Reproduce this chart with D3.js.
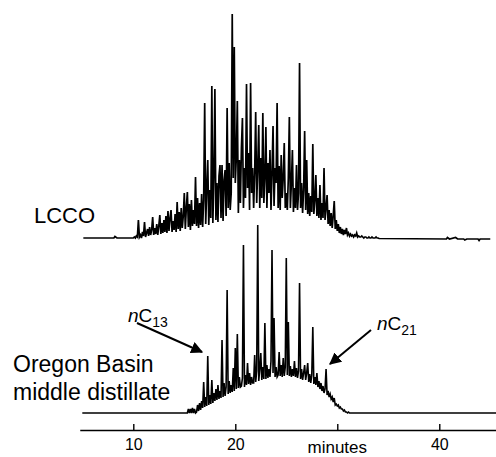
<!DOCTYPE html>
<html lang="en">

<head>
    <meta charset="UTF-8">
    <title>Chromatograms</title>
    <script src="https://d3js.org/d3.v7.min.js"></script>
    <style>
        body { margin: 0; background: #fff; }
        text { font-family: "Liberation Sans", Arial, sans-serif; fill: #000; }
    </style>
</head>

<body>
    <div id="chart"></div>
    <script>
        const sampleStep = 0.1;

        // LCCO trace: flat start, sampled region 10.0 - 34.0 min, flat tail
        const lccoLead = [[5.1, 0], [8.1, 0], [8.2, 1.5], [8.4, 0], [9.9, 0]];
        const lccoStart = 10.0;
        const lccoSignal = [
            0, 1, 0, 2, 1, 18, 1, 3, 0, 6,
            2, 16, 1, 5, 9, 2, 11, 3, 8, 21,
            3, 10, 4, 14, 3, 12, 23, 4, 15, 5,
            18, 6, 22, 5, 27, 7, 20, 28, 6, 17,
            8, 24, 6, 36, 9, 26, 7, 30, 10, 22,
            45, 9, 30, 46, 11, 34, 8, 38, 12, 28,
            14, 61, 12, 40, 10, 35, 13, 44, 11, 38,
            135, 14, 50, 78, 13, 48, 20, 152, 15, 60,
            149, 18, 55, 16, 62, 73, 20, 73, 17, 58,
            68, 22, 130, 30, 75, 28, 45, 224, 60, 191,
            55, 80, 137, 25, 78, 35, 90, 120, 30, 70,
            40, 154, 50, 85, 28, 155, 45, 70, 30, 65,
            126, 35, 70, 113, 30, 80, 40, 125, 35, 60,
            111, 30, 75, 45, 88, 28, 65, 112, 32, 70,
            55, 135, 30, 72, 28, 83, 40, 60, 95, 30,
            45, 28, 60, 121, 30, 55, 88, 26, 50, 30,
            73, 28, 45, 175, 30, 55, 25, 48, 107, 28,
            78, 24, 45, 22, 42, 26, 94, 24, 38, 63,
            22, 40, 20, 53, 18, 35, 20, 70, 18, 30,
            43, 14, 28, 12, 25, 10, 22, 37, 9, 18,
            7, 14, 5, 11, 4, 9, 3, 8, 4, 10,
            3, 5, 2, 4, 2, 3, 1, 3, 2, 5,
            1, 2, 1, 1, 2, 1, 0, 1, 1, 0,
            0, 1, 0, 0, 1, 0, 0, 0, 1, 0,
            0
        ];
        const lccoTail = [[34.1, -0.5], [40.7, -1], [40.8, 0.5], [41.0, -1], [41.6, 0.5],
            [41.8, -1], [42.4, -1], [42.5, -2], [42.7, -1], [43.8, -1], [43.9, -2.5], [44.0, -1], [45.0, -1]];

        // Oregon Basin middle distillate trace: sampled region 15.0 - 32.0 min
        const oregonLead = [[5.0, 0], [14.9, 0]];
        const oregonStart = 15.0;
        const oregonSignal = [
            0, 0, 0, 0, 4, 0, 4, 0, 5, 0,
            4, 0, 1, 8, 2, 10, 3, 12, 5, 31,
            6, 16, 7, 57, 8, 18, 9, 33, 10, 20,
            12, 24, 13, 28, 14, 22, 15, 73, 16, 30,
            17, 26, 123, 19, 32, 20, 28, 21, 45, 22,
            65, 24, 79, 25, 36, 26, 27, 35, 168, 26,
            38, 28, 50, 29, 40, 28, 36, 30, 30, 58,
            31, 42, 188, 32, 44, 60, 33, 46, 34, 90,
            34, 48, 35, 44, 36, 52, 163, 40, 95, 36,
            46, 36, 38, 61, 37, 48, 36, 55, 37, 46,
            155, 38, 91, 37, 47, 36, 44, 37, 52, 36,
            45, 35, 42, 130, 34, 44, 33, 40, 48, 33,
            40, 50, 31, 39, 30, 38, 86, 29, 36, 28,
            40, 26, 32, 24, 30, 22, 27, 20, 24, 44,
            18, 22, 16, 19, 14, 16, 11, 15, 8, 9,
            7, 8, 5, 6, 4, 4, 2, 3, 1, 1,
            0, 1, 0, 0, 0, 0, 0, 0, 0, 0,
            0
        ];
        const oregonTail = [[32.1, 0], [45.7, 0]];

        // axis ticks
        const tickValues = [10, 20, 30, 40];
        const tickLabels = ["10", "20", "", "40"];

        const width = 496;
        const height = 457;

        const svg = d3.select("#chart")
            .append("svg")
            .attr("width", width)
            .attr("height", height);

        // time scale (minutes)
        const xScale = d3.scaleLinear().domain([4.75, 45.6]).range([79.75, 496.4]);
        // one signal scale per trace, same gain
        const yTop = d3.scaleLinear().domain([0, 224]).range([238, 14]);
        const yBot = d3.scaleLinear().domain([0, 224]).range([413, 189]);

        function buildTrace(lead, start, signal, tail) {
            const sampled = signal.map((v, i) => [start + i * sampleStep, v]);
            return lead.concat(sampled, tail);
        }

        const lccoData = buildTrace(lccoLead, lccoStart, lccoSignal, lccoTail);
        const oregonData = buildTrace(oregonLead, oregonStart, oregonSignal, oregonTail);

        const lineTop = d3.line().x(d => xScale(d[0])).y(d => yTop(d[1]));
        const lineBot = d3.line().x(d => xScale(d[0])).y(d => yBot(d[1]));

        svg.append("path")
            .datum(lccoData)
            .attr("fill", "none")
            .attr("stroke", "#000")
            .attr("stroke-width", 1.7)
            .attr("d", lineTop);

        svg.append("path")
            .datum(oregonData)
            .attr("fill", "none")
            .attr("stroke", "#000")
            .attr("stroke-width", 1.6)
            .attr("d", lineBot);

        // bottom axis, ticks pointing up
        const xAxis = svg.append("g")
            .attr("transform", "translate(0,430)")
            .call(d3.axisBottom(xScale)
                .tickValues(tickValues)
                .tickFormat((d, i) => tickLabels[i])
                .tickSizeInner(-6)
                .tickSizeOuter(0)
                .tickPadding(9));
        xAxis.select(".domain").attr("stroke-width", 1.4);
        xAxis.selectAll(".tick line").attr("stroke-width", 1.4);
        xAxis.selectAll(".tick text")
            .attr("font-size", 16)
            .attr("font-family", "Liberation Sans, Arial, sans-serif");

        svg.append("text")
            .attr("x", xScale(30))
            .attr("y", 453)
            .attr("text-anchor", "middle")
            .attr("font-size", 17)
            .text("minutes");

        // trace labels
        svg.append("text").attr("x", 34).attr("y", 223).attr("font-size", 22).text("LCCO");
        svg.append("text").attr("x", 13).attr("y", 372).attr("font-size", 23).text("Oregon Basin");
        svg.append("text").attr("x", 13).attr("y", 400).attr("font-size", 23).text("middle distillate");

        // n-alkane markers
        const markers = [
            { num: "13", tx: 128, ty: 322, from: [137, 323], to: [202, 352] },
            { num: "21", tx: 377, ty: 330, from: [371, 330], to: [330, 364] }
        ];

        svg.append("defs").append("marker")
            .attr("id", "arrow")
            .attr("viewBox", "0 0 10 10")
            .attr("refX", 9).attr("refY", 5)
            .attr("markerWidth", 6).attr("markerHeight", 6)
            .attr("orient", "auto")
            .append("path")
            .attr("d", "M0,0L10,5L0,10Z")
            .attr("fill", "#000");

        markers.forEach(m => {
            const t = svg.append("text").attr("x", m.tx).attr("y", m.ty).attr("font-size", 19);
            t.append("tspan").attr("font-style", "italic").text("n");
            t.append("tspan").text("C");
            t.append("tspan").attr("font-size", 14).attr("dy", 5).text(m.num);

            svg.append("line")
                .attr("x1", m.from[0]).attr("y1", m.from[1])
                .attr("x2", m.to[0]).attr("y2", m.to[1])
                .attr("stroke", "#000")
                .attr("stroke-width", 2)
                .attr("marker-end", "url(#arrow)");
        });
    </script>
</body>

</html>
